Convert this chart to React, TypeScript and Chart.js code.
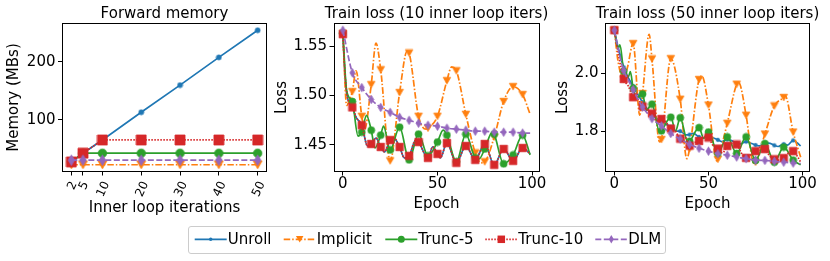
import React, { useEffect, useRef } from "react";
import { Chart, registerables } from "chart.js";

Chart.register(...registerables);

const FIG_W = 830;
const FIG_H = 261;
const FONT = "'DejaVu Sans', 'Liberation Sans', sans-serif";

const C_UNROLL = "#1f77b4";
const C_IMPLICIT = "#ff7f0e";
const C_TRUNC5 = "#2ca02c";
const C_TRUNC10 = "#d62728";
const C_DLM = "#9467bd";

// ---------- Forward memory ----------
const innerIters = [2, 5, 10, 20, 30, 40, 50];
const memUnroll = [27, 42, 65, 113, 160, 208, 255];
const memImplicit = [22, 22, 22, 22, 22, 22, 22];
const memTrunc5 = [27, 42, 42, 42, 42, 42, 42];
const memTrunc10 = [27, 42, 65, 65, 65, 65, 65];
const memDLM = [30, 30, 30, 30, 30, 30, 30];
const memTicksX = [2, 5, 10, 20, 30, 40, 50];
const memTicksY = [100, 200];

// ---------- Train loss (10 inner loop iters) ----------
const l10UnrollEpochs = [0, 1, 2, 3, 5, 7, 10, 13, 15, 17.5, 20, 22, 25, 27, 30, 32.5, 35, 38.5, 40, 45, 47.5, 50, 51.5, 55, 60, 65, 70, 75, 80, 85, 90, 95, 99];
const l10UnrollLoss = [1.562, 1.525, 1.503, 1.494, 1.488, 1.478, 1.470, 1.449, 1.451, 1.457, 1.448, 1.443, 1.455, 1.457, 1.448, 1.437, 1.439, 1.455, 1.453, 1.437, 1.448, 1.441, 1.437, 1.452, 1.432, 1.449, 1.435, 1.451, 1.430, 1.446, 1.434, 1.447, 1.441];
const l10ImplicitEpochs = [0, 2, 3, 5, 7, 10, 11.5, 15, 17.5, 20, 25, 30, 34, 35, 40, 44, 45, 50, 55, 57.5, 60, 65, 70, 73, 75, 80, 85, 90, 95, 99];
const l10ImplicitLoss = [1.563, 1.490, 1.493, 1.504, 1.525, 1.479, 1.466, 1.511, 1.553, 1.526, 1.434, 1.503, 1.545, 1.543, 1.479, 1.466, 1.467, 1.479, 1.515, 1.529, 1.525, 1.481, 1.442, 1.432, 1.433, 1.458, 1.494, 1.509, 1.501, 1.481];
const l10Trunc5Epochs = [0, 2, 5, 8, 10, 12.5, 15, 17, 20, 21.5, 25, 30, 35, 40, 45, 50, 53, 55, 60, 65, 70, 72, 75, 79, 80, 85, 90, 95, 99];
const l10Trunc5Loss = [1.563, 1.505, 1.494, 1.459, 1.463, 1.480, 1.465, 1.447, 1.460, 1.469, 1.445, 1.468, 1.435, 1.461, 1.439, 1.453, 1.465, 1.460, 1.433, 1.461, 1.437, 1.436, 1.446, 1.463, 1.461, 1.431, 1.440, 1.460, 1.440];
// with 10 inner iterations, Trunc-10 is the full unroll
const l10Trunc10Epochs = l10UnrollEpochs;
const l10Trunc10Loss = l10UnrollLoss;
const l10DLMEpochs = [0, 5, 10, 15, 20, 25, 30, 35, 40, 45, 50, 55, 60, 65, 70, 75, 80, 85, 90, 95, 99];
const l10DLMLoss = [1.566, 1.523, 1.508, 1.496, 1.488, 1.483, 1.478, 1.475, 1.472, 1.470, 1.469, 1.467, 1.466, 1.465, 1.464, 1.464, 1.463, 1.463, 1.463, 1.462, 1.462];
const l10TicksY = [1.45, 1.5, 1.55];

// ---------- Train loss (50 inner loop iters) ----------
const l50UnrollEpochs = [0, 2, 5, 7, 10, 15, 20, 25, 27, 30, 33, 35, 38, 40, 42, 45, 47, 50, 52, 55, 57, 60, 62, 65, 67, 70, 72, 75, 77, 80, 82, 85, 87, 90, 92, 95, 97, 99];
const l50UnrollLoss = [2.148, 2.09, 2.02, 1.99, 1.955, 1.90, 1.857, 1.832, 1.825, 1.815, 1.80, 1.800, 1.787, 1.788, 1.792, 1.780, 1.776, 1.783, 1.778, 1.770, 1.764, 1.771, 1.768, 1.758, 1.756, 1.764, 1.760, 1.752, 1.749, 1.757, 1.759, 1.751, 1.747, 1.755, 1.752, 1.768, 1.760, 1.749];
const l50ImplicitEpochs = [0, 2, 5, 7, 10, 13.5, 15, 18.5, 20, 24, 25, 30, 35, 38.5, 40, 45, 46.5, 50, 54.5, 55, 60, 65, 66, 70, 74, 75, 80, 85, 90, 90.8, 95, 99];
const l50ImplicitLoss = [2.148, 2.04, 1.978, 2.02, 2.102, 1.855, 1.93, 2.134, 2.049, 1.763, 1.771, 2.05, 1.91, 1.705, 1.74, 1.978, 1.990, 1.890, 1.697, 1.703, 1.827, 1.962, 1.968, 1.855, 1.690, 1.693, 1.79, 1.887, 1.916, 1.922, 1.797, 1.71];
const l50Trunc5Epochs = [0, 2, 3, 5, 7.5, 8.5, 10, 12, 15, 17, 20, 24, 25, 30, 32.5, 35, 39, 40, 45, 47.5, 50, 55, 60, 65, 70, 75, 80, 85, 90, 95, 99];
const l50Trunc5Loss = [2.148, 2.085, 2.098, 2.006, 1.988, 2.005, 1.948, 1.915, 1.928, 1.872, 1.893, 1.798, 1.801, 1.848, 1.800, 1.846, 1.763, 1.765, 1.812, 1.775, 1.797, 1.724, 1.780, 1.723, 1.780, 1.699, 1.757, 1.693, 1.745, 1.700, 1.684];
const l50Trunc10Epochs = [0, 2, 5, 7.5, 10, 12.5, 15, 17.5, 20, 22.5, 25, 27.5, 30, 32.5, 35, 37.5, 40, 42.5, 45, 47.5, 50, 52.5, 55, 57.5, 60, 62.5, 65, 67.5, 70, 72.5, 75, 77.5, 80, 82.5, 85, 87.5, 90, 92.5, 95, 97.5, 99];
const l50Trunc10Loss = [2.148, 2.07, 1.980, 1.955, 1.917, 1.91, 1.885, 1.875, 1.861, 1.835, 1.842, 1.83, 1.809, 1.80, 1.774, 1.78, 1.750, 1.76, 1.766, 1.782, 1.778, 1.75, 1.740, 1.725, 1.749, 1.758, 1.754, 1.725, 1.708, 1.718, 1.731, 1.745, 1.738, 1.715, 1.703, 1.700, 1.707, 1.725, 1.731, 1.71, 1.693];
const l50DLMEpochs = [0, 2.5, 5, 7.5, 10, 12.5, 15, 17.5, 20, 25, 30, 35, 40, 45, 50, 55, 60, 65, 70, 75, 80, 85, 90, 95, 99];
const l50DLMLoss = [2.148, 2.07, 2.009, 1.975, 1.943, 1.91, 1.883, 1.862, 1.843, 1.818, 1.792, 1.773, 1.754, 1.741, 1.731, 1.722, 1.717, 1.711, 1.705, 1.700, 1.699, 1.696, 1.693, 1.690, 1.688];
const l50TicksY = [1.8, 2.0];

const epochTicks = [0, 50, 100];

// ---------- styling ----------
type Series = { label: string; color: string; dash: number[]; marker: string; xs: number[]; ys: number[] };

const DASH_IMPLICIT = [6.5, 2, 1.5, 2];
const DASH_TRUNC10 = [1.5, 1.5];
const DASH_DLM = [6, 2.5];

const MARK_BIG: Record<string, [number, number]> = { ".": [5, 5], v: [9, 8], o: [8.5, 8.5], s: [10, 10], d: [6.5, 10.5] };
const MARK_SMALL: Record<string, [number, number]> = { ".": [3.5, 3.5], v: [7.5, 6.5], o: [7, 7], s: [7.5, 7.5], d: [5, 8.5] };

const Y_AXIS_W = 55;
const X_AXIS_H = 30;

function makeMarker(shape: string, w: number, h: number, color: string): HTMLCanvasElement {
  const c = document.createElement("canvas");
  c.width = Math.ceil(w + 2);
  c.height = Math.ceil(h + 2);
  const g = c.getContext("2d")!;
  const cx = c.width / 2;
  const cy = c.height / 2;
  g.fillStyle = color;
  g.strokeStyle = color;
  g.lineWidth = 0.8;
  g.beginPath();
  if (shape === "o" || shape === ".") g.arc(cx, cy, w / 2, 0, Math.PI * 2);
  else if (shape === "s") g.rect(cx - w / 2, cy - h / 2, w, h);
  else if (shape === "v") {
    g.moveTo(cx - w / 2, cy - h / 2);
    g.lineTo(cx + w / 2, cy - h / 2);
    g.lineTo(cx, cy + h / 2);
    g.closePath();
  } else if (shape === "d") {
    g.moveTo(cx, cy - h / 2);
    g.lineTo(cx + w / 2, cy);
    g.lineTo(cx, cy + h / 2);
    g.lineTo(cx - w / 2, cy);
    g.closePath();
  }
  g.fill();
  g.stroke();
  return c;
}

type Panel = {
  area: [number, number, number, number];
  title: string;
  xLabel: string;
  yLabel: string;
  yLabelX: number;
  xLabelY: number;
  xTicks: number[];
  yTicks: number[];
  fmtX: (v: number) => string;
  fmtY: (v: number) => string;
  rotatedX: boolean;
  smooth: boolean;
  big: boolean;
  series: Series[];
};

function mkSeries(xs: number[], ys: number[][]): Series[] {
  return [
    { label: "Unroll", color: C_UNROLL, dash: [], marker: ".", xs, ys: ys[0] },
    { label: "Implicit", color: C_IMPLICIT, dash: DASH_IMPLICIT, marker: "v", xs, ys: ys[1] },
    { label: "Trunc-5", color: C_TRUNC5, dash: [], marker: "o", xs, ys: ys[2] },
    { label: "Trunc-10", color: C_TRUNC10, dash: DASH_TRUNC10, marker: "s", xs, ys: ys[3] },
    { label: "DLM", color: C_DLM, dash: DASH_DLM, marker: "d", xs, ys: ys[4] },
  ];
}

const memPanel: Panel = {
  area: [62, 23.5, 267, 171.5],
  title: "Forward memory",
  xLabel: "Inner loop iterations",
  yLabel: "Memory (MBs)",
  yLabelX: 18.3,
  xLabelY: 211.5,
  xTicks: memTicksX,
  yTicks: memTicksY,
  fmtX: (v) => String(v),
  fmtY: (v) => String(v),
  rotatedX: true,
  smooth: false,
  big: true,
  series: mkSeries(innerIters, [memUnroll, memImplicit, memTrunc5, memTrunc10, memDLM]),
};

const l10Panel: Panel = {
  area: [333.5, 23.5, 539.5, 171.5],
  title: "Train loss (10 inner loop iters)",
  xLabel: "Epoch",
  yLabel: "Loss",
  yLabelX: 286,
  xLabelY: 207.5,
  xTicks: epochTicks,
  yTicks: l10TicksY,
  fmtX: (v) => String(v),
  fmtY: (v) => v.toFixed(2),
  rotatedX: false,
  smooth: true,
  big: false,
  series: [
    { label: "Unroll", color: C_UNROLL, dash: [], marker: ".", xs: l10UnrollEpochs, ys: l10UnrollLoss },
    { label: "Implicit", color: C_IMPLICIT, dash: DASH_IMPLICIT, marker: "v", xs: l10ImplicitEpochs, ys: l10ImplicitLoss },
    { label: "Trunc-5", color: C_TRUNC5, dash: [], marker: "o", xs: l10Trunc5Epochs, ys: l10Trunc5Loss },
    { label: "Trunc-10", color: C_TRUNC10, dash: DASH_TRUNC10, marker: "s", xs: l10Trunc10Epochs, ys: l10Trunc10Loss },
    { label: "DLM", color: C_DLM, dash: DASH_DLM, marker: "d", xs: l10DLMEpochs, ys: l10DLMLoss },
  ],
};

const l50Panel: Panel = {
  area: [605, 23.5, 810, 171.5],
  title: "Train loss (50 inner loop iters)",
  xLabel: "Epoch",
  yLabel: "Loss",
  yLabelX: 567.3,
  xLabelY: 207.5,
  xTicks: epochTicks,
  yTicks: l50TicksY,
  fmtX: (v) => String(v),
  fmtY: (v) => v.toFixed(1),
  rotatedX: false,
  smooth: true,
  big: false,
  series: [
    { label: "Unroll", color: C_UNROLL, dash: [], marker: ".", xs: l50UnrollEpochs, ys: l50UnrollLoss },
    { label: "Implicit", color: C_IMPLICIT, dash: DASH_IMPLICIT, marker: "v", xs: l50ImplicitEpochs, ys: l50ImplicitLoss },
    { label: "Trunc-5", color: C_TRUNC5, dash: [], marker: "o", xs: l50Trunc5Epochs, ys: l50Trunc5Loss },
    { label: "Trunc-10", color: C_TRUNC10, dash: DASH_TRUNC10, marker: "s", xs: l50Trunc10Epochs, ys: l50Trunc10Loss },
    { label: "DLM", color: C_DLM, dash: DASH_DLM, marker: "d", xs: l50DLMEpochs, ys: l50DLMLoss },
  ],
};

function withMargin(vals: number[]): [number, number] {
  const lo = Math.min(...vals);
  const hi = Math.max(...vals);
  const d = (hi - lo) * 0.05;
  return [lo - d, hi + d];
}

function panelPlugin(p: Panel) {
  return {
    id: "panelText",
    afterDraw(chart: any) {
      const ctx: CanvasRenderingContext2D = chart.ctx;
      const a = chart.chartArea;
      ctx.save();
      // frame
      ctx.strokeStyle = "#000";
      ctx.lineWidth = 1;
      const l = Math.round(a.left) + 0.5;
      const r = Math.round(a.right) - 0.5;
      const t = Math.floor(a.top) + 0.5;
      const b = Math.floor(a.bottom) + 0.5;
      ctx.strokeRect(l, t, r - l, b - t);
      ctx.fillStyle = "#000";
      // title
      ctx.font = `15px ${FONT}`;
      ctx.textAlign = "center";
      ctx.textBaseline = "alphabetic";
      const cx = (a.left + a.right) / 2;
      ctx.fillText(p.title, cx, 18);
      // x label
      ctx.fillText(p.xLabel, cx, p.xLabelY);
      // y label
      ctx.save();
      ctx.translate(p.yLabelX, (a.top + a.bottom) / 2);
      ctx.rotate(-Math.PI / 2);
      ctx.fillText(p.yLabel, 0, 0);
      ctx.restore();
      // rotated x ticks
      if (p.rotatedX) {
        ctx.font = `12px ${FONT}`;
        const th = (65 * Math.PI) / 180;
        const inkH = 12 * 0.73;
        for (const v of p.xTicks) {
          const px = chart.scales.x.getPixelForValue(v);
          const label = p.fmtX(v);
          const w = ctx.measureText(label).width;
          const bh = w * Math.sin(th) + inkH * Math.cos(th);
          const cy = a.bottom + 8.5 + bh / 2;
          ctx.save();
          ctx.translate(px, cy);
          ctx.rotate(-th);
          ctx.textAlign = "center";
          ctx.fillText(label, 0, inkH / 2);
          ctx.restore();
        }
      }
      ctx.restore();
    },
  };
}

function PanelCanvas({ panel }: { panel: Panel }) {
  const ref = useRef<HTMLCanvasElement>(null);
  useEffect(() => {
    const canvas = ref.current;
    if (!canvas) return;
    const [xMin, xMax] = withMargin(panel.series.flatMap((s) => s.xs));
    const [yMin, yMax] = withMargin(panel.series.flatMap((s) => s.ys));
    const n = panel.series.length;
    const datasets = panel.series.map((s, i) => {
      const sz = (panel.big ? MARK_BIG : MARK_SMALL)[s.marker];
      const img = makeMarker(s.marker, sz[0], sz[1], s.color);
      const isMark = (c: any) => !!c.raw && (panel.big || c.raw.x % 5 === 0);
      return {
        label: s.label,
        data: s.xs.map((x, j) => ({ x, y: s.ys[j] })),
        borderColor: s.color,
        backgroundColor: s.color,
        borderWidth: 1.7,
        borderDash: s.dash,
        tension: 0,
        cubicInterpolationMode: panel.smooth ? "monotone" : "default",
        pointStyle: (c: any) => (isMark(c) ? img : false),
        pointRadius: (c: any) => (isMark(c) ? 4 : 0),
        pointHoverRadius: 0,
        pointBorderWidth: 0,
        fill: false,
        order: n - i,
      };
    });
    const tickFont = { family: FONT, size: 15, lineHeight: 1 };
    const chart = new Chart(canvas, {
      type: "line",
      data: { datasets } as any,
      options: {
        animation: false,
        responsive: false,
        devicePixelRatio: 1,
        events: [],
        layout: {
          padding: {
            left: panel.area[0] - Y_AXIS_W,
            top: panel.area[1],
            right: FIG_W - panel.area[2],
            bottom: FIG_H - panel.area[3] - X_AXIS_H,
          },
        },
        plugins: { legend: { display: false }, tooltip: { enabled: false }, title: { display: false } },
        scales: {
          x: {
            type: "linear",
            min: xMin,
            max: xMax,
            afterFit: (s: any) => {
              s.height = X_AXIS_H;
            },
            afterBuildTicks: (s: any) => {
              s.ticks = panel.xTicks.map((v) => ({ value: v }));
            },
            grid: { drawOnChartArea: false, drawTicks: true, tickLength: 4, tickColor: "#000", tickWidth: 1, color: "#000" },
            border: { display: false },
            ticks: {
              display: !panel.rotatedX,
              autoSkip: false,
              maxRotation: 0,
              minRotation: 0,
              color: "#000",
              padding: 1,
              font: tickFont,
              callback: (v: any) => panel.fmtX(Number(v)),
            },
          },
          y: {
            type: "linear",
            min: yMin,
            max: yMax,
            afterFit: (s: any) => {
              s.width = Y_AXIS_W;
            },
            afterBuildTicks: (s: any) => {
              s.ticks = panel.yTicks.map((v) => ({ value: v }));
            },
            grid: { drawOnChartArea: false, drawTicks: true, tickLength: 4, tickColor: "#000", tickWidth: 1, color: "#000" },
            border: { display: false },
            ticks: {
              autoSkip: false,
              color: "#000",
              padding: 2.5,
              font: tickFont,
              callback: (v: any) => panel.fmtY(Number(v)),
            },
          },
        },
      } as any,
      plugins: [panelPlugin(panel)],
    });
    return () => chart.destroy();
  }, [panel]);
  return (
    <canvas
      ref={ref}
      width={FIG_W}
      height={FIG_H}
      style={{ position: "absolute", left: 0, top: 0, width: FIG_W, height: FIG_H }}
    />
  );
}

// ---------- legend ----------
const legendLabels = ["Unroll", "Implicit", "Trunc-5", "Trunc-10", "DLM"];
const legendColors = [C_UNROLL, C_IMPLICIT, C_TRUNC5, C_TRUNC10, C_DLM];
const legendDashes = [[], DASH_IMPLICIT, [], DASH_TRUNC10, DASH_DLM];
const legendMarkers = [".", "v", "o", "s", "d"];
const legendTextX = [227.7, 316.7, 418.3, 518.3, 628.3];

const LEG_L = 188;
const LEG_T = 226;

function LegendMarker({ shape, x, y, color }: { shape: string; x: number; y: number; color: string }) {
  const [w, h] = MARK_SMALL[shape];
  if (shape === "." || shape === "o") return <circle cx={x} cy={y} r={w / 2} fill={color} />;
  if (shape === "s") return <rect x={x - w / 2} y={y - h / 2} width={w} height={h} fill={color} />;
  if (shape === "v")
    return <polygon points={`${x - w / 2},${y - h / 2} ${x + w / 2},${y - h / 2} ${x},${y + h / 2}`} fill={color} />;
  return <polygon points={`${x},${y - h / 2} ${x + w / 2},${y} ${x},${y + h / 2} ${x - w / 2},${y}`} fill={color} />;
}

function Legend() {
  const ox = LEG_L + 1;
  const oy = LEG_T + 1;
  const lineY = 239.3 - oy;
  return (
    <div
      style={{
        position: "absolute",
        left: LEG_L,
        top: LEG_T,
        width: 478,
        height: 27.5,
        boxSizing: "border-box",
        border: "1px solid #cccccc",
        borderRadius: 3,
        background: "rgba(255,255,255,0.8)",
      }}
    >
      <svg width={476} height={26} style={{ position: "absolute", left: 0, top: 0 }}>
        {legendLabels.map((lab, i) => {
          const x1 = legendTextX[i] - 33 - ox;
          const x2 = legendTextX[i] - 1 - ox;
          return (
            <g key={lab}>
              <line
                x1={x1}
                y1={lineY}
                x2={x2}
                y2={lineY}
                stroke={legendColors[i]}
                strokeWidth={1.7}
                strokeDasharray={legendDashes[i].length ? legendDashes[i].join(" ") : undefined}
              />
              <LegendMarker shape={legendMarkers[i]} x={(x1 + x2) / 2} y={lineY} color={legendColors[i]} />
            </g>
          );
        })}
      </svg>
      {legendLabels.map((lab, i) => (
        <span
          key={lab}
          style={{
            position: "absolute",
            left: legendTextX[i] - ox,
            top: 231.8 - oy,
            font: `15px ${FONT}`,
            lineHeight: "15px",
            whiteSpace: "nowrap",
            color: "#000",
          }}
        >
          {lab}
        </span>
      ))}
    </div>
  );
}

export default function App() {
  return (
    <div
      style={{
        position: "absolute",
        left: 0,
        top: 0,
        width: FIG_W,
        height: FIG_H,
        background: "#fff",
        overflow: "hidden",
      }}
    >
      <PanelCanvas panel={memPanel} />
      <PanelCanvas panel={l10Panel} />
      <PanelCanvas panel={l50Panel} />
      <Legend />
    </div>
  );
}
